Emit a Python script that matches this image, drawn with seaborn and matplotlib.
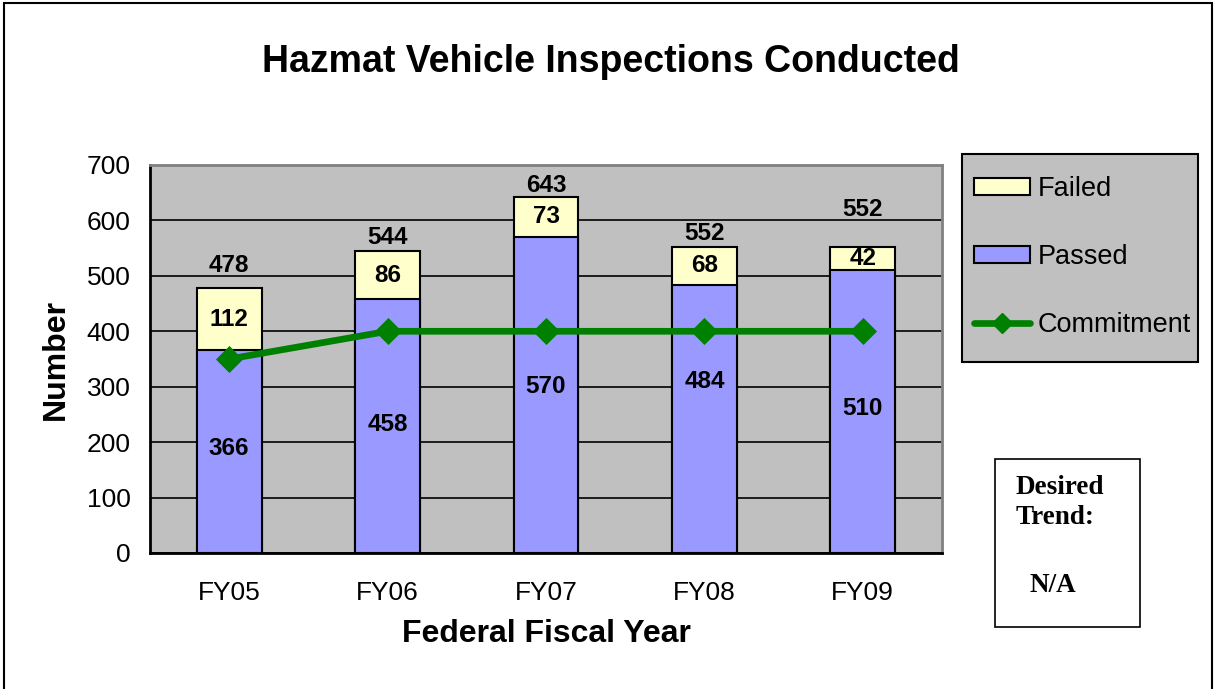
import matplotlib
matplotlib.use("Agg")
import matplotlib.pyplot as plt
import seaborn as sns
from matplotlib.patches import Rectangle, Patch
from matplotlib.lines import Line2D

# data
years = ["FY05", "FY06", "FY07", "FY08", "FY09"]
passed = [366, 458, 570, 484, 510]
failed = [112, 86, 73, 68, 42]
commitment = [350, 400, 400, 400, 400]
totals = [p + f for p, f in zip(passed, failed)]

# label nudges (points) to mimic where the original put them
total_offsets = [16, 10, 8, 10, 27]
passed_offsets = [2, 1, 6, 27, 2]

sns.set_style("white")
plt.rcParams["font.family"] = ["Liberation Sans", "DejaVu Sans"]
for key in ["text.color", "axes.labelcolor", "xtick.color", "ytick.color"]:
    plt.rcParams[key] = "black"

fig = plt.figure(figsize=(12.15, 6.89), dpi=100)
ax = fig.add_axes([150 / 1215, 1 - 553 / 689, 792 / 1215, 388 / 689])
ax.set_facecolor("#C0C0C0")

# stacked bars: total drawn in the "failed" colour, passed over it
sns.barplot(x=years, y=totals, color="#FFFFCC", width=0.41, edgecolor="black",
            linewidth=1.5, saturation=1, ax=ax)
sns.barplot(x=years, y=passed, color="#9999FF", width=0.41, edgecolor="black",
            linewidth=1.5, saturation=1, ax=ax)
sns.pointplot(x=years, y=commitment, color="#008000", markers="D",
              markersize=10, linewidth=4.8, ax=ax, zorder=5)

ax.set_ylim(0, 700)
ax.set_xlim(-0.5, 4.5)
ax.set_yticks(range(0, 701, 100))
ax.yaxis.grid(True, color="black", linewidth=1.2)
ax.set_axisbelow(True)
ax.tick_params(axis="y", length=0, pad=14, labelsize=19)
ax.tick_params(axis="x", length=0, pad=20, labelsize=19)

for side in ["left", "bottom"]:
    ax.spines[side].set_color("black")
    ax.spines[side].set_linewidth(2)
for side in ["top", "right"]:
    ax.spines[side].set_color("#808080")
    ax.spines[side].set_linewidth(2)

ax.set_xlabel("Federal Fiscal Year", fontsize=23, fontweight="bold")
ax.set_ylabel("Number", fontsize=23, fontweight="bold")
ax.xaxis.set_label_coords(0.5, -0.17)
ax.yaxis.set_label_coords(-0.10, 0.5)

# value labels
for i in range(len(years)):
    ax.annotate(str(totals[i]), (i, totals[i]), xytext=(0, total_offsets[i]),
                textcoords="offset points", ha="center", va="center",
                fontsize=17.5, fontweight="bold")
    ax.annotate(str(failed[i]), (i, passed[i] + failed[i] / 2), ha="center",
                va="center", fontsize=17.5, fontweight="bold")
    ax.annotate(str(passed[i]), (i, passed[i] / 2), xytext=(0, passed_offsets[i]),
                textcoords="offset points", ha="center", va="center",
                fontsize=17.5, fontweight="bold", zorder=6)

fig.text(611 / 1215, 1 - 62 / 689, "Hazmat Vehicle Inspections Conducted",
         ha="center", va="center", fontsize=27, fontweight="bold")

# legend: grey box drawn separately so the padding can differ per side
fig.patches.append(Rectangle((962 / 1215, 1 - 362 / 689), 236 / 1215, 208 / 689,
                             transform=fig.transFigure, facecolor="#C0C0C0",
                             edgecolor="black", linewidth=1.5))
handles = [
    Patch(facecolor="#FFFFCC", edgecolor="black", linewidth=1.5, label="Failed"),
    Patch(facecolor="#9999FF", edgecolor="black", linewidth=1.5, label="Passed"),
    Line2D([], [], color="#008000", linewidth=4.8, marker="D", markersize=10,
           label="Commitment"),
]
fig.legend(handles=handles, loc="center left",
           bbox_to_anchor=(974 / 1215, 1 - 257 / 689), borderaxespad=0,
           borderpad=0, fontsize=19.5, frameon=False, labelspacing=1.55,
           handlelength=2.05, handleheight=0.55, handletextpad=0.3)

# desired trend box
fig.patches.append(Rectangle((995 / 1215, 1 - 627 / 689), 145 / 1215, 168 / 689,
                             transform=fig.transFigure, facecolor="white",
                             edgecolor="black", linewidth=1.2))
for txt, xp, yp in [("Desired", 1016, 487), ("Trend:", 1016, 518), ("N/A", 1030, 586)]:
    fig.text(xp / 1215, 1 - yp / 689, txt, ha="left", va="center",
             fontsize=19.5, fontweight="bold", family="Liberation Serif")

# outer chart border
fig.patches.append(Rectangle((4 / 1215, -0.01), 1208 / 1215, 1 - 3 / 689 + 0.01,
                             transform=fig.transFigure, fill=False,
                             edgecolor="black", linewidth=1.5, clip_on=False))

fig.savefig("out.png", dpi=100)
